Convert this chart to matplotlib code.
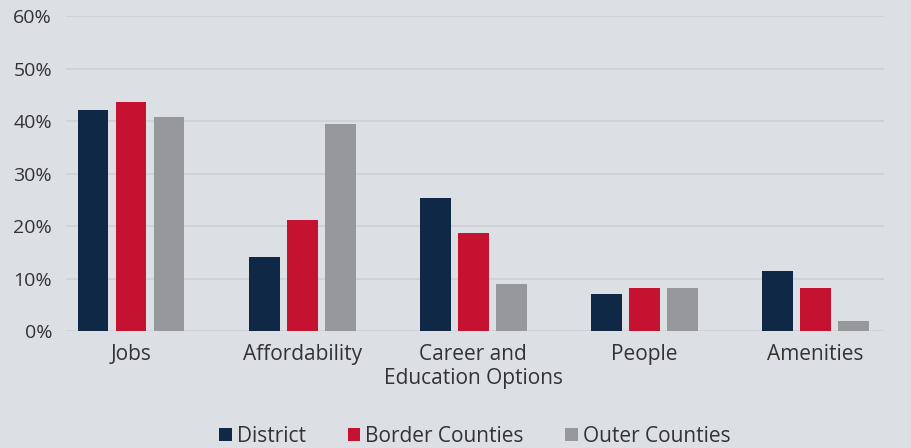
import numpy as np
import matplotlib.pyplot as plt

categories = ['Jobs', 'Affordability', 'Career and\nEducation Options', 'People', 'Amenities']
district = [42.1, 14.1, 25.3, 7.0, 11.4]
border = [43.6, 21.1, 18.7, 8.2, 8.2]
outer = [40.8, 39.4, 9.0, 8.2, 1.9]
series_names = ['District', 'Border Counties', 'Outer Counties']
colors = ['#0f2846', '#c41230', '#97989c']

bg = '#dcdfe4'
plt.rcParams['font.family'] = ['Open Sans', 'DejaVu Sans']

fig = plt.figure(figsize=(9.11, 4.48), dpi=100, facecolor=bg)
ax = fig.add_axes([0.0724, 0.261, 0.898, 0.703], facecolor=bg)

ind = np.arange(len(categories))
width = 0.18
step = 0.222
for k, (vals, name, c) in enumerate(zip([district, border, outer], series_names, colors)):
    ax.bar(ind + (k - 1) * step, vals, width, color=c, label=name, zorder=3)

ax.set_ylim(0, 60)
ax.set_xlim(-0.38, 4.40)
ax.set_yticks(np.arange(0, 61, 10))
ax.set_yticklabels([f'{v}%' for v in range(0, 61, 10)])
ax.set_xticks(ind)
ax.set_xticklabels(categories, linespacing=1.2)
ax.grid(axis='y', color='#cdd0d5', linewidth=1.2, zorder=0)
for s in ax.spines.values():
    s.set_visible(False)
ax.tick_params(axis='both', length=0, colors='#333333')
ax.tick_params(axis='y', pad=10, labelsize=14)
ax.tick_params(axis='x', pad=9, labelsize=15)

ax.legend(loc='center', bbox_to_anchor=(0.5, -0.335), ncol=3, frameon=False,
          fontsize=15, handlelength=0.6, handleheight=0.6, handletextpad=0.25,
          columnspacing=2.0, labelcolor='#333333')

fig.savefig('out.png', dpi=100, facecolor=bg)
